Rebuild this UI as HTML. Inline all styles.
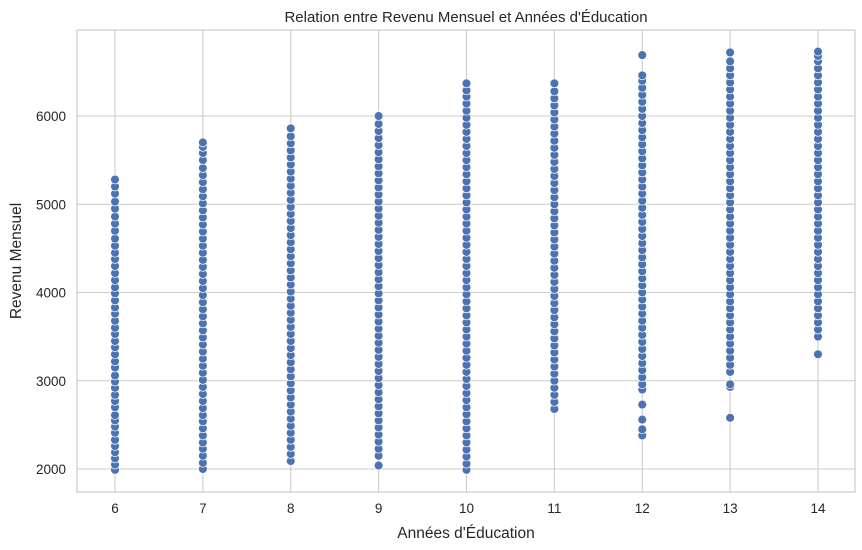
<!DOCTYPE html>
<html><head><meta charset="utf-8"><style>
body{margin:0;background:#fff;}
svg{display:block;font-family:"Liberation Sans","DejaVu Sans",sans-serif;}
</style></head><body>
<svg id="chart" width="862" height="550">
<rect x="77" y="30" width="778" height="462" fill="#fff" stroke="#cccccc" stroke-width="1.2"/>
<g id="grid"></g><g id="ticks"></g><g id="points"></g>
<text x="466" y="22" text-anchor="middle" font-size="15" fill="#262626">Relation entre Revenu Mensuel et Années d'Éducation</text>
<text x="466" y="538" text-anchor="middle" font-size="15.5" fill="#262626">Années d'Éducation</text>
<text x="21" y="261" text-anchor="middle" font-size="15.5" fill="#262626" transform="rotate(-90 21 261)">Revenu Mensuel</text>
</svg>
<script>
const xTicks=[6,7,8,9,10,11,12,13,14];
const yTicks=[2000,3000,4000,5000,6000];
const col6=[1990,2050,2120,2190,2260,2330,2410,2480,2550,2610,2700,2770,2840,2920,2990,3060,3150,3220,3300,3380,3450,3530,3600,3680,3760,3830,3910,3990,4060,4140,4220,4300,4380,4450,4530,4610,4700,4780,4860,4950,5030,5120,5200,5280];
const col7=[2000,2070,2150,2230,2300,2380,2460,2540,2610,2690,2770,2850,2930,3010,3090,3170,3250,3330,3410,3490,3570,3650,3730,3810,3890,3970,4050,4130,4210,4290,4370,4450,4530,4610,4690,4770,4850,4930,5010,5090,5170,5250,5330,5410,5500,5580,5650,5700];
const col8=[2090,2170,2250,2330,2410,2490,2570,2650,2730,2810,2890,2970,3050,3130,3210,3290,3370,3450,3530,3610,3690,3770,3850,3930,4010,4090,4170,4250,4330,4410,4490,4570,4650,4730,4810,4890,4970,5050,5130,5210,5290,5370,5450,5530,5610,5690,5770,5860];
const col9=[2040,2150,2230,2310,2390,2470,2550,2630,2710,2790,2870,2950,3030,3110,3190,3270,3350,3430,3510,3590,3670,3750,3830,3910,3990,4070,4150,4230,4310,4390,4470,4550,4630,4710,4790,4870,4950,5030,5110,5190,5270,5350,5430,5510,5590,5670,5750,5830,5910,6000];
const col10=[1990,2060,2140,2220,2300,2380,2460,2540,2620,2700,2780,2860,2940,3020,3100,3180,3260,3340,3420,3500,3580,3660,3740,3820,3900,3980,4060,4140,4220,4300,4380,4460,4540,4620,4700,4780,4860,4940,5020,5100,5180,5260,5340,5420,5500,5580,5660,5740,5820,5900,5980,6060,6140,6220,6290,6370];
const col11=[2680,2760,2840,2920,3000,3080,3160,3240,3320,3400,3480,3560,3640,3720,3800,3880,3960,4040,4120,4200,4280,4360,4440,4520,4600,4680,4760,4840,4920,5000,5080,5160,5240,5320,5400,5480,5560,5640,5720,5800,5880,5960,6040,6120,6200,6280,6370];
const col12=[2380,2450,2560,2730,2900,2960,3040,3120,3200,3280,3360,3440,3520,3600,3680,3760,3840,3920,4000,4080,4160,4240,4320,4400,4480,4560,4640,4720,4800,4880,4960,5040,5120,5200,5280,5360,5440,5520,5600,5680,5760,5840,5920,6000,6080,6160,6240,6320,6400,6460,6690];
const col13=[2580,2930,2960,3100,3180,3260,3340,3420,3500,3580,3660,3740,3820,3900,3980,4060,4140,4220,4300,4380,4460,4540,4620,4700,4780,4860,4940,5020,5100,5180,5260,5340,5420,5500,5580,5660,5740,5820,5900,5980,6060,6140,6220,6300,6380,6460,6540,6620,6720];
const col14=[3300,3500,3580,3660,3740,3820,3900,3980,4060,4140,4220,4300,4380,4460,4540,4620,4700,4780,4860,4940,5020,5100,5180,5260,5340,5420,5500,5580,5660,5740,5820,5900,5980,6060,6140,6220,6300,6380,6460,6540,6620,6680,6730];
const columns=[col6,col7,col8,col9,col10,col11,col12,col13,col14];
const NS="http://www.w3.org/2000/svg";
function xs(v){return 115+(v-6)*87.875;}
function ys(v){return 469-(v-2000)*0.08825;}
const grid=document.getElementById('grid'),ticks=document.getElementById('ticks'),pts=document.getElementById('points');
xTicks.forEach(t=>{
  const l=document.createElementNS(NS,'line');
  l.setAttribute('x1',xs(t));l.setAttribute('x2',xs(t));l.setAttribute('y1',30);l.setAttribute('y2',492);
  l.setAttribute('stroke','#cccccc');l.setAttribute('stroke-width','1.1');
  
  
  grid.appendChild(l);
  const tx=document.createElementNS(NS,'text');
  tx.setAttribute('x',xs(t));tx.setAttribute('y',513);tx.setAttribute('text-anchor','middle');
  tx.setAttribute('font-size','13.5');tx.setAttribute('fill','#262626');tx.textContent=t;
  
  
  ticks.appendChild(tx);
});
yTicks.forEach(t=>{
  const l=document.createElementNS(NS,'line');
  l.setAttribute('x1',77);l.setAttribute('x2',855);l.setAttribute('y1',ys(t));l.setAttribute('y2',ys(t));
  l.setAttribute('stroke','#cccccc');l.setAttribute('stroke-width','1.1');
  
  
  grid.appendChild(l);
  const tx=document.createElementNS(NS,'text');
  tx.setAttribute('x',66);tx.setAttribute('y',ys(t)+5);tx.setAttribute('text-anchor','end');
  tx.setAttribute('font-size','13.5');tx.setAttribute('fill','#262626');tx.textContent=t;
  
  
  ticks.appendChild(tx);
});
columns.forEach((col,i)=>{
  col.forEach(v=>{
    const c=document.createElementNS(NS,'circle');
    c.setAttribute('cx',xs(xTicks[i]));c.setAttribute('cy',ys(v));c.setAttribute('r',4.4);
    c.setAttribute('fill','#4c72b0');c.setAttribute('stroke','#fff');c.setAttribute('stroke-width','0.7');
    
    
    pts.appendChild(c);
  });
});
</script>
</body></html>
